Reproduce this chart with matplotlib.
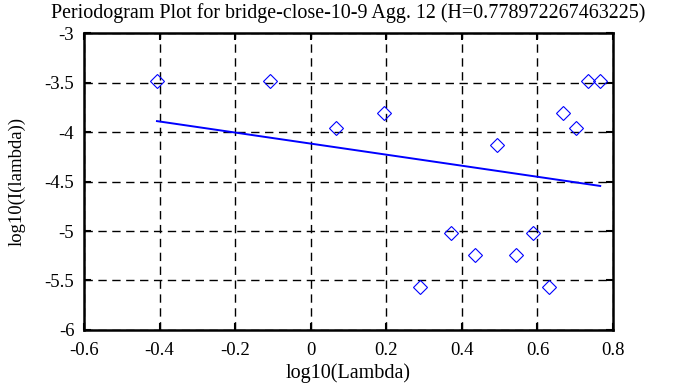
"""
Periodogram plot - log10(I(lambda)) vs log10(Lambda) with fitted line.
"""
import matplotlib
matplotlib.use("Agg")
import matplotlib.pyplot as plt

# periodogram points
log_lambda = [-0.407, -0.108, 0.067, 0.194, 0.493, 0.371, 0.289, 0.435,
              0.543, 0.588, 0.631, 0.668, 0.702, 0.734, 0.766]
log_I = [-3.48, -3.48, -3.96, -3.81, -4.13, -5.02, -5.57, -5.24,
         -5.24, -5.02, -5.57, -3.81, -3.96, -3.48, -3.48]

# least squares fit line (slope = 1 - 2H)
fit_x = [-0.407, 0.766]
fit_y = [-3.89, -4.545]

x_ticks = [-0.6, -0.4, -0.2, 0, 0.2, 0.4, 0.6, 0.8]
x_labels = ['-0.6', '-0.4', '-0.2', '0', '0.2', '0.4', '0.6', '0.8']
y_ticks = [-6, -5.5, -5, -4.5, -4, -3.5, -3]
y_labels = ['-6', '-5.5', '-5', '-4.5', '-4', '-3.5', '-3']

plt.rcParams['font.family'] = ['Liberation Serif', 'DejaVu Serif']

fig = plt.figure(figsize=(6.95, 3.87), dpi=100)
ax = fig.add_axes([0.1209, 0.1473, 0.7612, 0.7674])

ax.plot(log_lambda, log_I, linestyle='none', marker='D', markersize=7,
        markerfacecolor='none', markeredgecolor='#0000ff', markeredgewidth=0.8)
ax.plot(fit_x, fit_y, color='#0000ff', linewidth=1.4)

ax.set_xlim(-0.6, 0.8)
ax.set_ylim(-6, -3)
ax.set_xticks(x_ticks)
ax.set_xticklabels(x_labels)
ax.set_yticks(y_ticks)
ax.set_yticklabels(y_labels)
ax.tick_params(direction='in', length=5, width=1.5, top=True, right=True,
               labelsize=13.5, colors='black')
ax.tick_params(axis='x', pad=9)
ax.tick_params(axis='y', pad=7)
ax.grid(True, color='black', linestyle=(0, (6, 4)), linewidth=1)
for s in ax.spines.values():
    s.set_linewidth(1.8)

ax.set_title('Periodogram Plot for bridge-close-10-9 Agg. 12 (H=0.778972267463225)',
             fontsize=14.4, pad=11)
ax.set_xlabel('log10(Lambda)', fontsize=14.5, labelpad=3)
ax.set_ylabel('log10(I(lambda))', fontsize=13.5, labelpad=14)

fig.savefig('out.png', dpi=100)
